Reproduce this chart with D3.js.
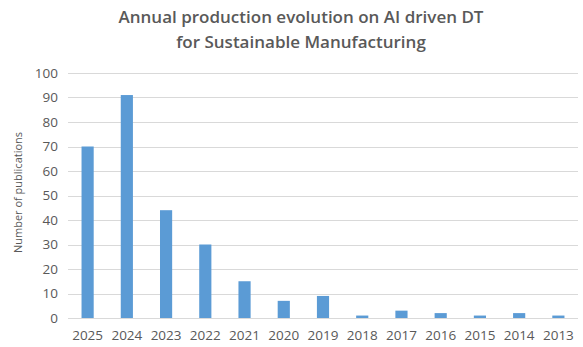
<!DOCTYPE html>
<html>
<head>
<meta charset="utf-8">
<script src="https://cdn.jsdelivr.net/npm/d3@7"></script>
<style>
  body { margin: 0; background: #fff; }
  #chart { width: 583px; height: 347px; }
  .axis text { font-family: "Open Sans", sans-serif; fill: #595959; }
</style>
</head>
<body>
<div id="chart"></div>
<script>
// Publications per year
const years = ['2025', '2024', '2023', '2022', '2021', '2020', '2019', '2018', '2017', '2016', '2015', '2014', '2013'];
const publications = [70, 91, 44, 30, 15, 7, 9, 1, 3, 2, 1, 2, 1];
const yTicks = [0, 10, 20, 30, 40, 50, 60, 70, 80, 90, 100];
const titleLines = ['Annual production evolution on AI driven DT', 'for Sustainable Manufacturing'];

const W = 583, H = 347;
const margin = { top: 73, right: 5, bottom: 29, left: 68 };
const width = W - margin.left - margin.right;
const height = H - margin.top - margin.bottom;

const root = d3.select('#chart').append('svg')
    .attr('width', W)
    .attr('height', H);

const svg = root.append('g')
    .attr('transform', `translate(${margin.left},${margin.top})`);

const data = years.map((y, i) => ({ year: y, value: publications[i] }));

const x = d3.scaleBand()
    .domain(years)
    .range([0, width])
    .paddingInner(0.69)
    .paddingOuter(0.345);

const y = d3.scaleLinear()
    .domain([0, 100])
    .range([height, 0]);

// gridlines
svg.append('g')
    .selectAll('line')
    .data(yTicks)
    .enter()
    .append('line')
    .attr('x1', 0)
    .attr('x2', width)
    .attr('y1', d => Math.round(y(d)) + 0.5)
    .attr('y2', d => Math.round(y(d)) + 0.5)
    .attr('stroke', '#d9d9d9')
    .attr('stroke-width', 1);

// bars
svg.selectAll('.bar')
    .data(data)
    .enter()
    .append('rect')
    .attr('class', 'bar')
    .attr('x', d => x(d.year))
    .attr('y', d => y(d.value))
    .attr('width', x.bandwidth())
    .attr('height', d => height - y(d.value))
    .attr('fill', '#5b9bd5');

// y axis
const yAxis = d3.axisLeft(y).tickValues(yTicks).tickSize(0).tickPadding(10);
svg.append('g')
    .attr('class', 'axis')
    .call(yAxis)
    .call(g => g.select('.domain').remove())
    .selectAll('text')
    .style('font-size', '13.5px');

// x axis
const xAxis = d3.axisBottom(x).tickSize(0).tickPadding(12);
svg.append('g')
    .attr('class', 'axis')
    .attr('transform', `translate(0,${height})`)
    .call(xAxis)
    .call(g => g.select('.domain').remove())
    .selectAll('text')
    .style('font-size', '13.5px');

// y axis label
root.append('text')
    .attr('transform', `translate(22,${margin.top + height / 2 - 3}) rotate(-90)`)
    .attr('text-anchor', 'middle')
    .style('font-family', '"Open Sans", sans-serif')
    .style('font-size', '11px')
    .style('fill', '#595959')
    .text('Number of publications');

// title
root.append('g')
    .selectAll('text')
    .data(titleLines)
    .enter()
    .append('text')
    .attr('x', 301)
    .attr('y', (d, i) => 23 + i * 25)
    .attr('text-anchor', 'middle')
    .style('font-family', '"Open Sans", sans-serif')
    .style('font-size', '17px')
    .style('font-weight', 600)
    .style('fill', '#595959')
    .text(d => d);
</script>
</body>
</html>
